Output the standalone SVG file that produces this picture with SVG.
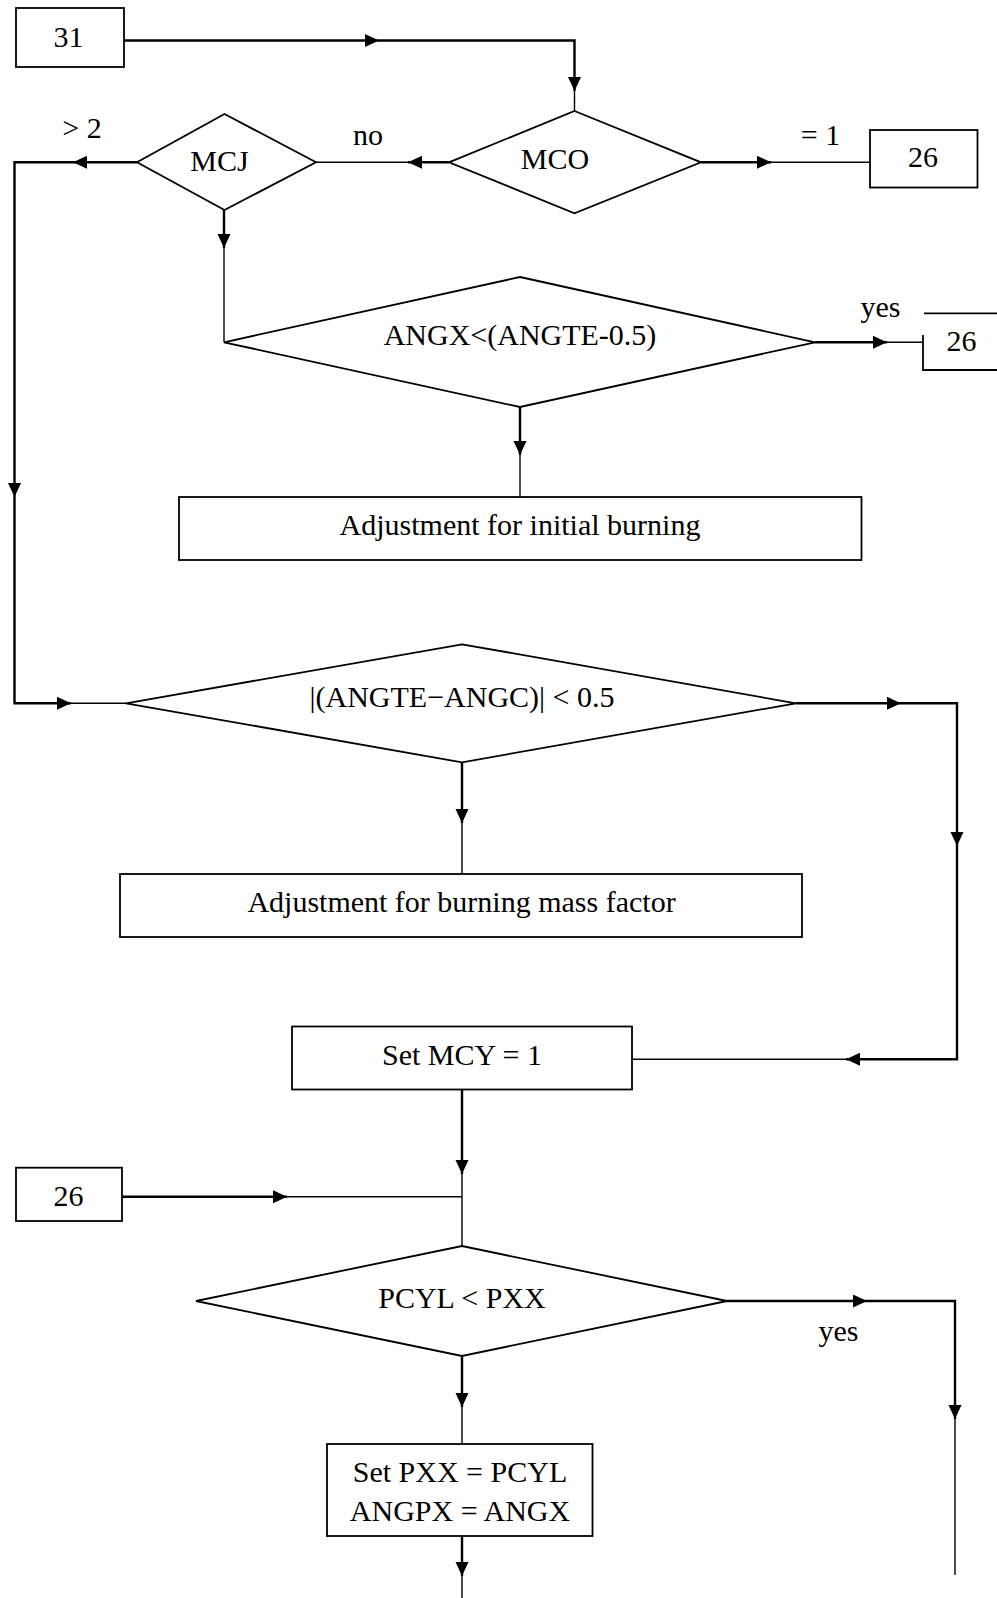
<svg xmlns="http://www.w3.org/2000/svg" width="997" height="1598" viewBox="0 0 997 1598">
  <style>
    .shape { fill: #ffffff; stroke: #000000; stroke-width: 1.8; }
    .open { fill: none; stroke: #000000; stroke-width: 1.8; }
    .arrow { fill: none; stroke: #000000; stroke-width: 2.4; marker-end: url(#head); }
    .line { fill: none; stroke: #000000; stroke-width: 1.4; }
    text { font-family: "Liberation Serif", "Times New Roman", serif; font-size: 30px; fill: #000000; text-anchor: middle; }
  </style>
  <defs>
    <marker id="head" markerUnits="userSpaceOnUse" markerWidth="15" markerHeight="14" refX="14" refY="6.5" orient="auto">
      <path d="M0,0 L14,6.5 L0,13 Z" fill="#000000"/>
    </marker>
  </defs>

  <rect width="997" height="1598" fill="#ffffff"/>

  <!-- connectors: each arrowed leg ends at its arrowhead, then a plain leg continues -->
  <g id="connectors">
    <path class="arrow" d="M124,40.5 H379"/>
    <path class="arrow" d="M379,40.5 H574.5 V91"/>
    <path class="line" d="M574.5,91 V111"/>

    <path class="arrow" d="M449,162.3 H408"/>
    <path class="line" d="M408,162.3 H316"/>

    <path class="arrow" d="M137,162.3 H73"/>
    <path class="arrow" d="M73,162.3 H14.5 V497"/>
    <path class="arrow" d="M14.5,497 V703.3 H71"/>
    <path class="line" d="M71,703.3 H126"/>

    <path class="arrow" d="M701,162.3 H771"/>
    <path class="line" d="M771,162.3 H870"/>

    <path class="arrow" d="M224,210 V248"/>
    <path class="line" d="M224,248 V342"/>

    <path class="arrow" d="M815,342.3 H887"/>
    <path class="line" d="M887,342.3 H923"/>

    <path class="arrow" d="M520,407 V455"/>
    <path class="line" d="M520,455 V497"/>

    <path class="arrow" d="M796,703.3 H901"/>
    <path class="arrow" d="M901,703.3 H957 V846"/>
    <path class="arrow" d="M957,846 V1059.3 H846"/>
    <path class="line" d="M846,1059.3 H632"/>

    <path class="arrow" d="M462,762.3 V823"/>
    <path class="line" d="M462,823 V874"/>

    <path class="arrow" d="M462,1089.5 V1174"/>
    <path class="line" d="M462,1174 V1246"/>

    <path class="arrow" d="M122,1196.7 H287"/>
    <path class="line" d="M287,1196.7 H462"/>

    <path class="arrow" d="M727,1301 H867"/>
    <path class="arrow" d="M867,1301 H955 V1419"/>
    <path class="line" d="M955,1419 V1575"/>

    <path class="arrow" d="M462,1356 V1407"/>
    <path class="line" d="M462,1407 V1444"/>

    <path class="arrow" d="M462,1536 V1576"/>
    <path class="line" d="M462,1576 V1598"/>
  </g>

  <g id="node-31">
    <rect class="shape" x="16" y="8" width="108" height="59"/>
    <text x="68.5" y="47">31</text>
  </g>

  <g id="node-mco">
    <polygon class="shape" points="574.5,111 701,162.3 574.5,213.3 449,162.3"/>
    <text x="555" y="168.5">MCO</text>
  </g>

  <g id="node-mcj">
    <polygon class="shape" points="224.5,114 316,162.3 224.5,210 137,162.3"/>
    <text x="219.5" y="170.5">MCJ</text>
  </g>

  <g id="label-gt2">
    <text x="82" y="137.5">&gt; 2</text>
  </g>
  <g id="label-no">
    <text x="368" y="145">no</text>
  </g>
  <g id="label-eq1">
    <text x="820.5" y="145">= 1</text>
  </g>

  <g id="node-26-top">
    <rect class="shape" x="870" y="130" width="107.5" height="57.5"/>
    <text x="923" y="167">26</text>
  </g>

  <g id="node-angx">
    <polygon class="shape" points="520,277 815,342.3 520,407 224,342.3"/>
    <text x="520" y="345">ANGX&lt;(ANGTE-0.5)</text>
  </g>

  <g id="label-yes-1">
    <text x="880.5" y="317">yes</text>
  </g>

  <g id="node-26-edge">
    <path class="open" d="M924,313.3 H997"/>
    <path class="open" d="M923,335 V370 H997"/>
    <text x="961.5" y="351">26</text>
  </g>

  <g id="node-initial-burning">
    <rect class="shape" x="179" y="497" width="682.5" height="63"/>
    <text x="520" y="535">Adjustment for initial burning</text>
  </g>

  <g id="node-angte">
    <polygon class="shape" points="462,644.3 796,703.3 462,762.3 126,703.3"/>
    <text x="462" y="706.5">|(ANGTE−ANGC)| &lt; 0.5</text>
  </g>

  <g id="node-mass-factor">
    <rect class="shape" x="120" y="874" width="682" height="63"/>
    <text x="461.5" y="911.5">Adjustment for burning mass factor</text>
  </g>

  <g id="node-set-mcy">
    <rect class="shape" x="292" y="1026.5" width="340" height="63"/>
    <text x="462" y="1064.5">Set MCY = 1</text>
  </g>

  <g id="node-26-bottom">
    <rect class="shape" x="16" y="1167.7" width="106" height="53.3"/>
    <text x="68.5" y="1205.5">26</text>
  </g>

  <g id="node-pcyl">
    <polygon class="shape" points="462,1246 727,1301 462,1356 196,1301"/>
    <text x="462" y="1308">PCYL &lt; PXX</text>
  </g>

  <g id="label-yes-2">
    <text x="838.5" y="1341">yes</text>
  </g>

  <g id="node-set-pxx">
    <rect class="shape" x="327" y="1444" width="265.5" height="92"/>
    <text x="460" y="1482">Set PXX = PCYL</text>
    <text x="460" y="1521">ANGPX = ANGX</text>
  </g>
</svg>
